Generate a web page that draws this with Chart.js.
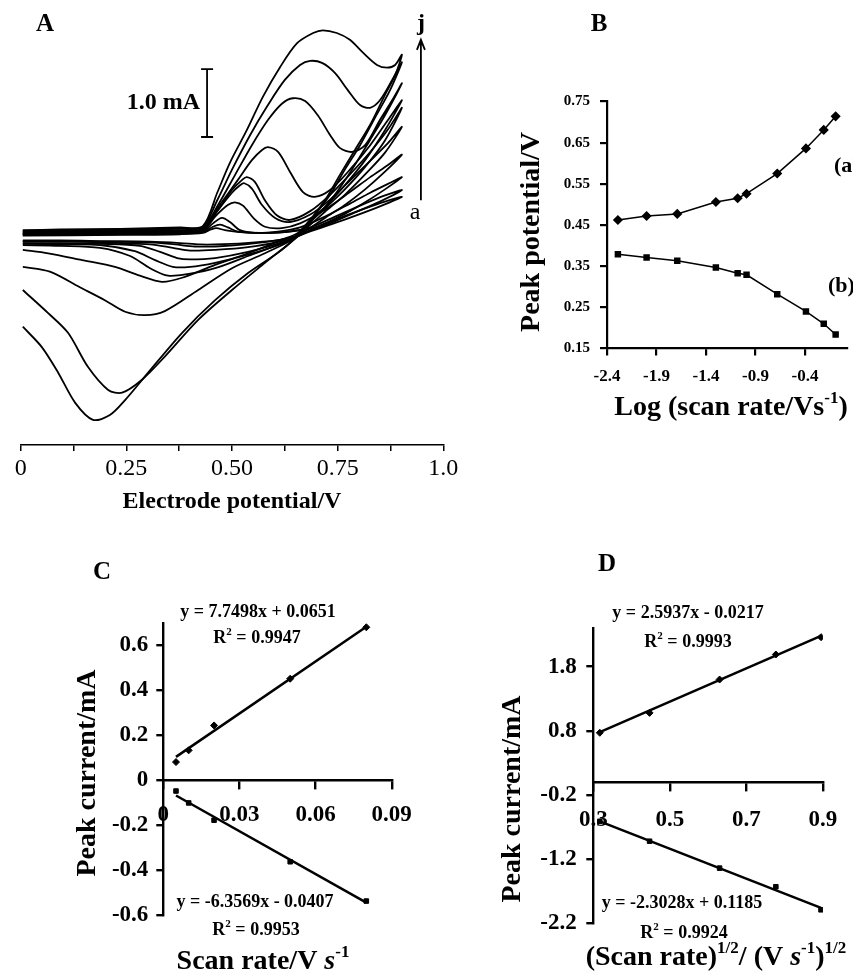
<!DOCTYPE html>
<html><head><meta charset="utf-8">
<script src="https://cdn.jsdelivr.net/npm/chart.js@4.4.1/dist/chart.umd.min.js"></script>
<style>
html,body{margin:0;padding:0;background:#fff;}
body{width:853px;height:979px;position:relative;overflow:hidden;}
canvas{position:absolute;}
</style></head><body>
<canvas id="cA" width="470" height="540" style="left:0;top:0;width:470px;height:540px"></canvas>
<canvas id="cB" width="383" height="540" style="left:470px;top:0;width:383px;height:540px"></canvas>
<canvas id="cC" width="430" height="439" style="left:0;top:540px;width:430px;height:439px"></canvas>
<canvas id="cD" width="423" height="439" style="left:430px;top:540px;width:423px;height:439px"></canvas>
<script>
// ---------------- DATA ----------------
// Panel A: cyclic voltammograms a..j, [potential V, current mA]; forward scan then reverse scan
const cvA_fwd = [[0.005,0.02],[0.235,0.03],[0.377,0.04],[0.431,0.06],[0.450,0.11],[0.463,0.13],[0.483,0.10],[0.519,0.07],[0.578,0.06],[0.637,0.08],[0.696,0.14],[0.755,0.28],[0.815,0.42],[0.862,0.52],[0.902,0.59]];
const cvA_rev = [[0.850,0.45],[0.791,0.31],[0.732,0.18],[0.685,0.08],[0.649,0.00],[0.606,-0.05],[0.531,-0.09],[0.460,-0.11],[0.424,-0.11],[0.377,-0.09],[0.306,-0.07],[0.188,-0.06],[0.093,-0.05],[0.005,-0.05]];
const cvB_fwd = [[0.005,0.03],[0.235,0.04],[0.377,0.05],[0.431,0.07],[0.455,0.15],[0.472,0.18],[0.490,0.14],[0.514,0.08],[0.566,0.06],[0.625,0.07],[0.685,0.14],[0.744,0.30],[0.803,0.46],[0.857,0.60],[0.902,0.69]];
const cvB_rev = [[0.850,0.52],[0.791,0.36],[0.732,0.20],[0.685,0.09],[0.649,0.01],[0.606,-0.05],[0.531,-0.11],[0.460,-0.14],[0.412,-0.14],[0.365,-0.11],[0.306,-0.08],[0.188,-0.07],[0.093,-0.06],[0.005,-0.06]];
const cvC_fwd = [[0.005,0.04],[0.235,0.05],[0.377,0.06],[0.431,0.08],[0.455,0.20],[0.476,0.28],[0.495,0.22],[0.519,0.10],[0.554,0.06],[0.609,0.08],[0.661,0.14],[0.720,0.30],[0.779,0.49],[0.827,0.65],[0.869,0.78],[0.902,0.88]];
const cvC_rev = [[0.862,0.70],[0.815,0.51],[0.767,0.34],[0.720,0.20],[0.685,0.10],[0.656,0.01],[0.618,-0.06],[0.538,-0.15],[0.460,-0.19],[0.401,-0.20],[0.360,-0.16],[0.306,-0.11],[0.188,-0.08],[0.093,-0.07],[0.005,-0.07]];
const cvD_fwd = [[0.005,0.05],[0.235,0.06],[0.377,0.07],[0.431,0.09],[0.460,0.30],[0.490,0.47],[0.507,0.51],[0.526,0.46],[0.552,0.27],[0.578,0.15],[0.618,0.13],[0.661,0.20],[0.720,0.40],[0.779,0.66],[0.827,0.88],[0.869,1.06],[0.902,1.21]];
const cvD_rev = [[0.862,0.96],[0.815,0.70],[0.767,0.47],[0.720,0.28],[0.685,0.13],[0.656,0.02],[0.618,-0.08],[0.538,-0.22],[0.460,-0.31],[0.401,-0.33],[0.370,-0.31],[0.330,-0.22],[0.282,-0.13],[0.188,-0.10],[0.093,-0.09],[0.005,-0.09]];
const cvE_fwd = [[0.005,0.05],[0.235,0.07],[0.377,0.08],[0.431,0.10],[0.465,0.38],[0.500,0.65],[0.519,0.76],[0.529,0.79],[0.547,0.71],[0.571,0.47],[0.602,0.28],[0.637,0.22],[0.685,0.33],[0.732,0.55],[0.779,0.83],[0.827,1.12],[0.869,1.38],[0.902,1.62]];
const cvE_rev = [[0.862,1.24],[0.815,0.92],[0.767,0.62],[0.720,0.37],[0.685,0.18],[0.656,0.03],[0.618,-0.10],[0.538,-0.26],[0.460,-0.38],[0.401,-0.44],[0.360,-0.44],[0.318,-0.34],[0.270,-0.21],[0.188,-0.12],[0.093,-0.11],[0.005,-0.10]];
const cvF_fwd = [[0.005,0.06],[0.235,0.08],[0.377,0.09],[0.431,0.11],[0.467,0.40],[0.500,0.69],[0.524,0.84],[0.535,0.88],[0.554,0.81],[0.578,0.54],[0.606,0.32],[0.637,0.25],[0.685,0.38],[0.732,0.62],[0.779,0.92],[0.827,1.25],[0.869,1.58],[0.902,1.90]];
const cvF_rev = [[0.862,1.42],[0.815,1.03],[0.767,0.70],[0.720,0.42],[0.685,0.22],[0.656,0.04],[0.618,-0.09],[0.538,-0.28],[0.460,-0.46],[0.401,-0.54],[0.349,-0.57],[0.306,-0.46],[0.259,-0.28],[0.188,-0.16],[0.093,-0.13],[0.005,-0.12]];
const cvG_fwd = [[0.005,0.07],[0.235,0.09],[0.377,0.10],[0.431,0.12],[0.471,0.47],[0.514,0.84],[0.547,1.13],[0.571,1.28],[0.585,1.32],[0.609,1.25],[0.637,0.96],[0.668,0.66],[0.696,0.59],[0.732,0.69],[0.779,0.99],[0.827,1.35],[0.869,1.72],[0.902,2.01]];
const cvG_rev = [[0.862,1.57],[0.815,1.13],[0.767,0.76],[0.720,0.44],[0.685,0.25],[0.656,0.06],[0.618,-0.04],[0.538,-0.24],[0.460,-0.41],[0.382,-0.60],[0.334,-0.66],[0.282,-0.57],[0.223,-0.44],[0.145,-0.34],[0.065,-0.24],[0.005,-0.19]];
const cvH_fwd = [[0.005,0.08],[0.235,0.10],[0.377,0.12],[0.431,0.14],[0.467,0.47],[0.507,0.91],[0.547,1.35],[0.585,1.72],[0.618,1.96],[0.644,2.04],[0.673,2.00],[0.703,1.79],[0.732,1.50],[0.755,1.31],[0.784,1.25],[0.815,1.35],[0.850,1.72],[0.879,2.01],[0.902,2.26]];
const cvH_rev = [[0.862,1.79],[0.827,1.43],[0.791,1.06],[0.755,0.72],[0.720,0.44],[0.685,0.22],[0.656,0.01],[0.578,-0.24],[0.500,-0.46],[0.420,-0.78],[0.341,-1.09],[0.294,-1.15],[0.247,-1.10],[0.199,-0.93],[0.140,-0.74],[0.069,-0.51],[0.005,-0.44]];
const cvI_fwd = [[0.005,0.09],[0.235,0.11],[0.377,0.13],[0.431,0.15],[0.465,0.54],[0.500,0.99],[0.543,1.50],[0.585,1.94],[0.625,2.31],[0.661,2.53],[0.685,2.59],[0.713,2.56],[0.744,2.41],[0.774,2.16],[0.803,1.94],[0.827,1.90],[0.850,2.01],[0.879,2.31],[0.902,2.57]];
const cvI_rev = [[0.874,2.16],[0.838,1.75],[0.803,1.35],[0.767,0.99],[0.732,0.62],[0.696,0.32],[0.661,0.04],[0.578,-0.38],[0.500,-0.78],[0.420,-1.22],[0.341,-1.76],[0.287,-2.10],[0.240,-2.29],[0.207,-2.25],[0.159,-1.91],[0.112,-1.41],[0.065,-1.12],[0.005,-0.78]];
const cvJ_fwd = [[0.005,0.10],[0.093,0.11],[0.235,0.12],[0.377,0.14],[0.431,0.16],[0.465,0.65],[0.495,1.09],[0.535,1.57],[0.573,2.06],[0.614,2.50],[0.654,2.85],[0.692,3.00],[0.715,3.04],[0.748,3.00],[0.779,2.90],[0.810,2.71],[0.843,2.53],[0.867,2.49],[0.886,2.53],[0.902,2.68]];
const cvJ_rev = [[0.886,2.38],[0.862,2.09],[0.827,1.65],[0.791,1.28],[0.755,0.91],[0.720,0.54],[0.685,0.25],[0.661,0.06],[0.618,-0.19],[0.538,-0.53],[0.460,-0.93],[0.382,-1.41],[0.301,-2.00],[0.247,-2.40],[0.211,-2.62],[0.171,-2.69],[0.129,-2.44],[0.089,-2.00],[0.050,-1.62],[0.005,-1.32]];
const CV_CURVES = [[cvA_fwd,cvA_rev],[cvB_fwd,cvB_rev],[cvC_fwd,cvC_rev],[cvD_fwd,cvD_rev],[cvE_fwd,cvE_rev],[cvF_fwd,cvF_rev],[cvG_fwd,cvG_rev],[cvH_fwd,cvH_rev],[cvI_fwd,cvI_rev],[cvJ_fwd,cvJ_rev]];
const SCALE_BAR_V = 0.441, SCALE_BAR_MA = [1.47, 2.47];   // 1.0 mA scale bar
const ARROW_V = 0.947, ARROW_MA = [0.54, 2.90];           // a -> j arrow
const A_X_TICKS = [0,0.125,0.25,0.375,0.5,0.625,0.75,0.875,1.0];
const A_X_LABELS = ['0','','0.25','','0.50','','0.75','','1.0'];

// Panel B: peak potential vs log(scan rate)
const B_LOG_RATE = [-2.29,-2.0,-1.69,-1.30,-1.08,-0.99,-0.68,-0.39,-0.21,-0.09];
const B_EPA = [0.462,0.472,0.477,0.506,0.515,0.526,0.575,0.636,0.681,0.714];
const B_EPC = [0.379,0.371,0.363,0.347,0.333,0.329,0.282,0.240,0.210,0.184];
const B_X_TICKS = [-2.4,-1.9,-1.4,-0.9,-0.4];
const B_X_LABELS = ['-2.4','-1.9','-1.4','-0.9','-0.4'];
const B_Y_TICKS = [0.15,0.25,0.35,0.45,0.55,0.65,0.75];
const B_Y_LABELS = ['0.15','0.25','0.35','0.45','0.55','0.65','0.75'];

// Panel C: peak current vs scan rate
const C_RATE = [0.005,0.010,0.020,0.050,0.080];
const C_IPA = [0.081,0.133,0.244,0.452,0.681];
const C_IPC = [-0.048,-0.101,-0.178,-0.363,-0.538];
const C_TREND_A = [[0.005,0.104],[0.080,0.683]];
const C_TREND_C = [[0.005,-0.068],[0.080,-0.545]];
const C_X_TICKS = [0,0.03,0.06,0.09];
const C_X_LABELS = ['0','0.03','0.06','0.09'];
const C_Y_TICKS = [-0.6,-0.4,-0.2,0,0.2,0.4,0.6];
const C_Y_LABELS = ['-0.6','-0.4','-0.2','0','0.2','0.4','0.6'];

// Panel D: peak current vs sqrt(scan rate)
const D_SQRT_RATE = [0.317,0.447,0.630,0.777,0.895];
const D_IPA = [0.77,1.08,1.60,1.99,2.26];
const D_IPC = [-0.61,-0.92,-1.34,-1.63,-1.99];
const D_TREND_A = [[0.317,0.78],[0.895,2.28]];
const D_TREND_C = [[0.317,-0.61],[0.895,-1.96]];
const D_X_TICKS = [0.3,0.5,0.7,0.9];
const D_X_LABELS = ['0.3','0.5','0.7','0.9'];
const D_Y_TICKS = [-2.2,-1.2,-0.2,0.8,1.8];
const D_Y_LABELS = ['-2.2','-1.2','-0.2','0.8','1.8'];

// ---------------- RENDERING ----------------
const SERIF = '"Liberation Serif","Times New Roman",serif';
Chart.defaults.font.family = SERIF;
Chart.defaults.color = '#000';

function fontOf(style, size) {
  const sup = style.indexOf('s') >= 0, bold = style.indexOf('b') >= 0, ital = style.indexOf('i') >= 0;
  return (ital ? 'italic ' : '') + (bold ? 'bold ' : '') + (sup ? Math.round(size * 0.62) : size) + 'px ' + SERIF;
}
function drawRich(ctx, t, ox, oy) {
  ctx.save();
  ctx.translate(t.x - ox, t.y - oy);
  if (t.rot) ctx.rotate(-Math.PI / 2);
  ctx.fillStyle = '#000'; ctx.textBaseline = 'middle'; ctx.textAlign = 'left';
  let total = 0;
  const ws = t.parts.map(p => { ctx.font = fontOf(p[1], t.size); const w = ctx.measureText(p[0]).width; total += w; return w; });
  let cx = t.align === 'left' ? 0 : (t.align === 'right' ? -total : -total / 2);
  t.parts.forEach((p, i) => {
    ctx.font = fontOf(p[1], t.size);
    ctx.fillText(p[0], cx, p[1].indexOf('s') >= 0 ? -t.size * 0.33 : 0);
    cx += ws[i];
  });
  ctx.restore();
}
function textPlugin(texts, ox, oy, extra) {
  return { id: 'panelText', afterDraw(chart) { if (extra) extra(chart); texts.forEach(t => drawRich(chart.ctx, t, ox, oy)); } };
}
function fixTicks(values) { return s => { s.ticks = values.map(v => ({ value: v })); }; }
function xy(xs, ys) { return xs.map((x, i) => ({ x: x, y: ys[i] })); }
function pts(arr) { return arr.map(p => ({ x: p[0], y: p[1] })); }

function axisOpts(o) {
  return {
    type: 'linear', min: o.min, max: o.max,
    position: o.position,
    afterFit: o.fit,
    afterBuildTicks: fixTicks(o.ticks),
    border: { display: true, color: '#000', width: o.lw },
    grid: { display: true, drawOnChartArea: false, drawTicks: true, tickLength: o.tl, color: '#000', lineWidth: o.lw },
    ticks: { callback: (v, i) => o.labels[i], font: { family: SERIF, size: o.fs, weight: o.fw }, color: '#000', padding: o.pad, maxRotation: 0, minRotation: 0, autoSkip: false }
  };
}
const base = { responsive: false, animation: false, devicePixelRatio: 1, plugins: { legend: { display: false }, tooltip: { enabled: false } } };

// ---- Panel A ----
function drawAExtras(chart) {
  const ctx = chart.ctx, xs = chart.scales.x, ys = chart.scales.y;
  ctx.save(); ctx.strokeStyle = '#000'; ctx.lineWidth = 1.8;
  const bx = xs.getPixelForValue(SCALE_BAR_V), b1 = ys.getPixelForValue(SCALE_BAR_MA[0]), b2 = ys.getPixelForValue(SCALE_BAR_MA[1]);
  ctx.beginPath(); ctx.moveTo(bx, b1); ctx.lineTo(bx, b2);
  ctx.moveTo(bx - 6, b1); ctx.lineTo(bx + 6, b1); ctx.moveTo(bx - 6, b2); ctx.lineTo(bx + 6, b2); ctx.stroke();
  const ax = xs.getPixelForValue(ARROW_V), a1 = ys.getPixelForValue(ARROW_MA[0]), a2 = ys.getPixelForValue(ARROW_MA[1]);
  ctx.beginPath(); ctx.moveTo(ax, a1); ctx.lineTo(ax, a2);
  ctx.moveTo(ax - 4, a2 + 10); ctx.lineTo(ax, a2); ctx.lineTo(ax + 4, a2 + 10); ctx.stroke();
  ctx.restore();
}
const TEXT_A = [
  { x: 45, y: 25, size: 25, parts: [['A', 'b']] },
  { x: 232, y: 502, size: 24, parts: [['Electrode potential/V', 'b']] },
  { x: 200, y: 103, size: 24, align: 'right', parts: [['1.0 mA', 'b']] },
  { x: 421, y: 24, size: 24, parts: [['j', 'b']] },
  { x: 415, y: 213, size: 24, parts: [['a', 'n']] }
];
new Chart(document.getElementById('cA'), {
  type: 'scatter',
  data: { datasets: CV_CURVES.map(c => ({ data: pts(c[0].concat(c[1])), showLine: true, borderColor: '#000', borderWidth: 1.8, pointRadius: 0, tension: 0.3, fill: false })) },
  options: Object.assign({}, base, {
    layout: { padding: { left: 20.7, right: 26.7, top: 19.4, bottom: 0 } },
    scales: {
      x: axisOpts({ min: 0, max: 1, position: 'bottom', fit: s => { s.height = 95; }, ticks: A_X_TICKS, labels: A_X_LABELS, lw: 1.5, tl: 6, fs: 24, fw: 'normal', pad: 3 }),
      y: { type: 'linear', display: false, min: -3.06, max: 3.2 }
    }
  }),
  plugins: [textPlugin(TEXT_A, 0, 0, drawAExtras)]
});

// ---- Panel B ----
const TEXT_B = [
  { x: 599, y: 25, size: 25, parts: [['B', 'b']] },
  { x: 532, y: 232, size: 28, rot: true, parts: [['Peak potential/V', 'b']] },
  { x: 731, y: 408, size: 28, parts: [['Log (scan rate/Vs', 'b'], ['-1', 'bs'], [')', 'b']] },
  { x: 834, y: 166, size: 22, align: 'left', parts: [['(a)', 'b']] },
  { x: 828, y: 286, size: 22, align: 'left', parts: [['(b)', 'b']] }
];
new Chart(document.getElementById('cB'), {
  type: 'scatter',
  data: { datasets: [
    { data: xy(B_LOG_RATE, B_EPA), showLine: true, borderColor: '#000', borderWidth: 1.5, tension: 0, pointStyle: 'rectRot', pointRadius: 4, pointBackgroundColor: '#000', pointBorderColor: '#000' },
    { data: xy(B_LOG_RATE, B_EPC), showLine: true, borderColor: '#000', borderWidth: 1.5, tension: 0, pointStyle: 'rect', pointRadius: 3.5, pointBackgroundColor: '#000', pointBorderColor: '#000' }
  ] },
  options: Object.assign({}, base, {
    layout: { padding: { left: 37, right: 0, top: 101.5, bottom: 0 } },
    scales: {
      x: axisOpts({ min: -2.4, max: 0.03, position: 'bottom', fit: s => { s.height = 191.5; }, ticks: B_X_TICKS, labels: B_X_LABELS, lw: 2.2, tl: 7, fs: 17, fw: 'bold', pad: 11 }),
      y: axisOpts({ min: 0.15, max: 0.75, position: 'left', fit: s => { s.width = 100; }, ticks: B_Y_TICKS, labels: B_Y_LABELS, lw: 2.2, tl: 7, fs: 15, fw: 'bold', pad: 10 })
    }
  }),
  plugins: [textPlugin(TEXT_B, 470, 0)]
});

// ---- Panel C ----
const TEXT_C = [
  { x: 102, y: 573, size: 25, parts: [['C', 'b']] },
  { x: 258, y: 612, size: 18, parts: [['y = 7.7498x + 0.0651', 'b']] },
  { x: 257, y: 638, size: 18, parts: [['R', 'b'], ['2', 'bs'], [' = 0.9947', 'b']] },
  { x: 255, y: 902, size: 18, parts: [['y = -6.3569x - 0.0407', 'b']] },
  { x: 256, y: 930, size: 18, parts: [['R', 'b'], ['2', 'bs'], [' = 0.9953', 'b']] },
  { x: 88, y: 773, size: 28, rot: true, parts: [['Peak current/mA', 'b']] },
  { x: 263, y: 962, size: 28, parts: [['Scan rate/V ', 'b'], ['s', 'bi'], ['-1', 'bs']] }
];
new Chart(document.getElementById('cC'), {
  type: 'scatter',
  data: { datasets: [
    { data: pts(C_TREND_A), showLine: true, borderColor: '#000', borderWidth: 2.5, pointRadius: 0 },
    { data: pts(C_TREND_C), showLine: true, borderColor: '#000', borderWidth: 2.5, pointRadius: 0 },
    { data: xy(C_RATE, C_IPA), showLine: false, pointStyle: 'rectRot', pointRadius: 3.5, pointBackgroundColor: '#000', pointBorderColor: '#000' },
    { data: xy(C_RATE, C_IPC), showLine: false, pointStyle: 'rect', pointRadius: 3.2, pointBackgroundColor: '#000', pointBorderColor: '#000' }
  ] },
  options: Object.assign({}, base, {
    layout: { padding: { left: 63.3, right: 38.3, top: 83, bottom: 64 } },
    scales: {
      x: axisOpts({ min: 0, max: 0.09, position: { y: 0 }, fit: s => { s.height = 0; }, ticks: C_X_TICKS, labels: C_X_LABELS, lw: 2.4, tl: 8, fs: 23, fw: 'bold', pad: 13 }),
      y: axisOpts({ min: -0.6, max: 0.7, position: 'left', fit: s => { s.width = 100; }, ticks: C_Y_TICKS, labels: C_Y_LABELS, lw: 2.4, tl: 7, fs: 23, fw: 'bold', pad: 8 })
    }
  }),
  plugins: [textPlugin(TEXT_C, 0, 540)]
});

// ---- Panel D ----
const TEXT_D = [
  { x: 607, y: 565, size: 25, parts: [['D', 'b']] },
  { x: 688, y: 613, size: 18, parts: [['y = 2.5937x - 0.0217', 'b']] },
  { x: 688, y: 642, size: 18, parts: [['R', 'b'], ['2', 'bs'], [' = 0.9993', 'b']] },
  { x: 682, y: 903, size: 18, parts: [['y = -2.3028x + 0.1185', 'b']] },
  { x: 684, y: 933, size: 18, parts: [['R', 'b'], ['2', 'bs'], [' = 0.9924', 'b']] },
  { x: 513, y: 799, size: 28, rot: true, parts: [['Peak current/mA', 'b']] },
  { x: 716, y: 958, size: 28, parts: [['(Scan rate)', 'b'], ['1/2', 'bs'], ['/ (V ', 'b'], ['s', 'bi'], ['-1', 'bs'], [')', 'b'], ['1/2', 'bs']] }
];
new Chart(document.getElementById('cD'), {
  type: 'scatter',
  data: { datasets: [
    { data: pts(D_TREND_A), showLine: true, borderColor: '#000', borderWidth: 2.5, pointRadius: 0 },
    { data: pts(D_TREND_C), showLine: true, borderColor: '#000', borderWidth: 2.5, pointRadius: 0 },
    { data: xy(D_SQRT_RATE, D_IPA), showLine: false, pointStyle: 'rectRot', pointRadius: 3.5, pointBackgroundColor: '#000', pointBorderColor: '#000' },
    { data: xy(D_SQRT_RATE, D_IPC), showLine: false, pointStyle: 'rect', pointRadius: 3.2, pointBackgroundColor: '#000', pointBorderColor: '#000' }
  ] },
  options: Object.assign({}, base, {
    layout: { padding: { left: 63.3, right: 21.3, top: 88.2, bottom: 55.7 } },
    scales: {
      x: axisOpts({ min: 0.3, max: 0.9, position: { y: 0 }, fit: s => { s.height = 0; }, ticks: D_X_TICKS, labels: D_X_LABELS, lw: 2.4, tl: 8, fs: 23, fw: 'bold', pad: 15.7 }),
      y: axisOpts({ min: -2.2, max: 2.4, position: 'left', fit: s => { s.width = 100; }, ticks: D_Y_TICKS, labels: D_Y_LABELS, lw: 2.4, tl: 7, fs: 23, fw: 'bold', pad: 9.6 })
    }
  }),
  plugins: [textPlugin(TEXT_D, 430, 540)]
});
</script>
</body></html>
